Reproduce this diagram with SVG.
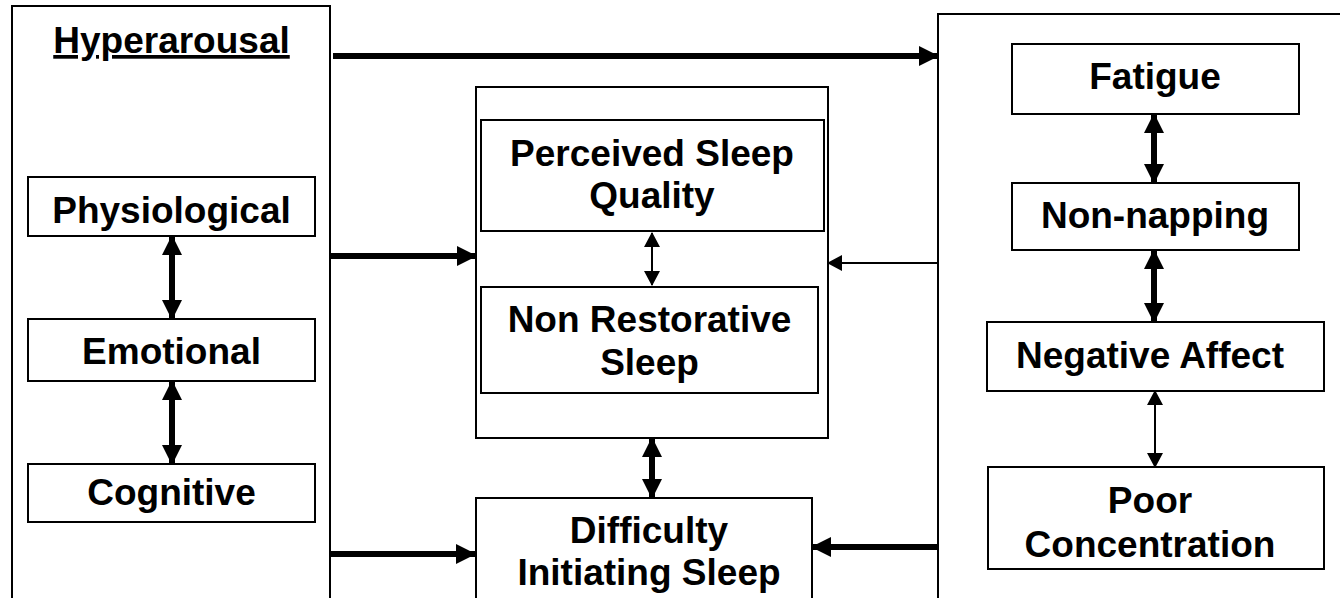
<svg xmlns="http://www.w3.org/2000/svg" width="1340" height="598" viewBox="0 0 1340 598">
<defs>
<style>
.box{fill:#fff;stroke:#000;stroke-width:2}
.inner{fill:#fff;stroke:#000;stroke-width:2}
.t{font-family:"Liberation Sans",Arial,sans-serif;font-weight:bold;font-size:37px;fill:#000;text-anchor:middle}
.thick{stroke:#000;stroke-width:6;fill:none}
.thin{stroke:#000;stroke-width:2;fill:none}
</style>
<marker id="ah" markerUnits="userSpaceOnUse" markerWidth="20" markerHeight="20" refX="19" refY="10" orient="auto-start-reverse" viewBox="0 0 20 20">
<path d="M0,0 L20,10 L0,20 z" fill="#000"/>
</marker>
<marker id="ahs" markerUnits="userSpaceOnUse" markerWidth="15" markerHeight="16" refX="14" refY="8" orient="auto-start-reverse" viewBox="0 0 15 16">
<path d="M0,0 L15,8 L0,16 z" fill="#000"/>
</marker>
</defs>
<rect width="1340" height="598" fill="#fff"/>

<g id="hyperarousal">
<rect class="box" x="12" y="6" width="318" height="620"/>
<text class="t" x="171.5" y="53" text-decoration="underline">Hyperarousal</text>
</g>
<g id="physiological">
<rect class="inner" x="28" y="177" width="287" height="59"/>
<text class="t" x="171.5" y="223">Physiological</text>
</g>
<g id="emotional">
<rect class="inner" x="28" y="319" width="287" height="62"/>
<text class="t" x="171.5" y="364">Emotional</text>
</g>
<g id="cognitive">
<rect class="inner" x="28" y="464" width="287" height="58"/>
<text class="t" x="171.5" y="505">Cognitive</text>
</g>

<g id="sleep-group">
<rect class="box" x="476" y="87" width="352" height="351"/>
</g>
<g id="perceived">
<rect class="inner" x="481" y="120" width="343" height="111"/>
<text class="t" x="652" y="166">Perceived Sleep</text>
<text class="t" x="652" y="208">Quality</text>
</g>
<g id="nonrestorative">
<rect class="inner" x="481" y="287" width="337" height="106"/>
<text class="t" x="649.5" y="332">Non Restorative</text>
<text class="t" x="649.5" y="375">Sleep</text>
</g>
<g id="difficulty">
<rect class="box" x="476" y="498" width="336" height="130"/>
<text class="t" x="649" y="543">Difficulty</text>
<text class="t" x="649" y="585">Initiating Sleep</text>
</g>

<g id="daytime">
<rect class="box" x="938" y="14" width="420" height="620"/>
</g>
<g id="fatigue">
<rect class="inner" x="1012" y="44" width="287" height="70"/>
<text class="t" x="1155" y="89">Fatigue</text>
</g>
<g id="nonnapping">
<rect class="inner" x="1012" y="183" width="287" height="67"/>
<text class="t" x="1155" y="228">Non-napping</text>
</g>
<g id="negative">
<rect class="inner" x="987" y="322" width="337" height="69"/>
<text class="t" x="1150" y="368">Negative Affect</text>
</g>
<g id="poor">
<rect class="inner" x="988" y="467" width="336" height="102"/>
<text class="t" x="1150" y="513">Poor</text>
<text class="t" x="1150" y="557">Concentration</text>
</g>

<g id="connectors">
<path class="thick" d="M333,56 H938" marker-end="url(#ah)"/>
<path class="thick" d="M330,256 H476" marker-end="url(#ah)"/>
<path class="thick" d="M330,554 H475" marker-end="url(#ah)"/>
<path class="thin" d="M938,263 H828" marker-end="url(#ahs)"/>
<path class="thick" d="M938,547 H812" marker-end="url(#ah)"/>
<path class="thick" d="M172,236 V319" marker-start="url(#ah)" marker-end="url(#ah)"/>
<path class="thick" d="M172,381 V464" marker-start="url(#ah)" marker-end="url(#ah)"/>
<path class="thin" d="M652,233 V285" marker-start="url(#ahs)" marker-end="url(#ahs)"/>
<path class="thick" d="M652,438 V498" marker-start="url(#ah)" marker-end="url(#ah)"/>
<path class="thick" d="M1154,114 V183" marker-start="url(#ah)" marker-end="url(#ah)"/>
<path class="thick" d="M1154,250 V322" marker-start="url(#ah)" marker-end="url(#ah)"/>
<path class="thin" d="M1155,391 V467" marker-start="url(#ahs)" marker-end="url(#ahs)"/>
</g>
</svg>
